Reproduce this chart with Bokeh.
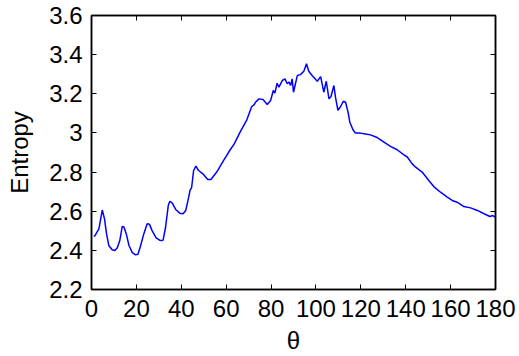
from bokeh.plotting import figure
from bokeh.models import LinearAxis, CustomJSTickFormatter, FixedTicker, Range1d
from bokeh.embed import file_html
from bokeh.resources import INLINE

theta = [1.0, 1.5, 2.3, 3.3, 4.8, 5.8, 6.7, 7.7, 9.2, 10.4, 11.5, 12.6, 13.7, 14.4, 15.5,
         16.7, 18.1, 19.6, 20.7, 21.9, 23.3, 24.8, 25.8, 27.0, 28.8, 30.7, 31.9, 33.0, 34.2,
         34.9, 36.0, 37.5, 39.3, 40.8, 42.0, 43.0, 43.9, 44.6, 45.5, 46.5, 47.7, 49.6, 51.8,
         53.2, 55.8, 58.8, 61.8, 63.6, 66.2, 69.2, 71.4, 72.5, 73.1, 74.6, 76.4, 78.3, 79.8,
         81.0, 81.7, 82.7, 83.5, 85.0, 86.2, 87.2, 88.0, 88.7, 89.4, 90.0, 91.7, 93.1, 94.6,
         95.8, 96.8, 98.3, 100.6, 102.1, 103.5, 104.6, 105.8, 106.7, 108.0, 108.7, 109.8,
         111.0, 112.2, 113.2, 114.3, 115.1, 116.5, 117.6, 119.8, 122.1, 124.3, 127.0, 130.3,
         133.2, 136.2, 139.2, 140.7, 142.9, 144.4, 147.3, 150.3, 152.5, 155.5, 158.5, 160.7,
         162.9, 165.9, 168.9, 171.9, 174.9, 177.5, 178.8, 180.0]
entropy = [2.472, 2.474, 2.49, 2.51, 2.606, 2.561, 2.484, 2.425, 2.403, 2.399, 2.413, 2.45,
           2.522, 2.52, 2.484, 2.425, 2.39, 2.377, 2.38, 2.425, 2.484, 2.536, 2.534, 2.501,
           2.464, 2.45, 2.452, 2.518, 2.629, 2.651, 2.641, 2.609, 2.59, 2.587, 2.604, 2.655,
           2.706, 2.72, 2.808, 2.83, 2.808, 2.791, 2.762, 2.762, 2.80, 2.859, 2.914, 2.944,
           3.004, 3.067, 3.135, 3.145, 3.157, 3.174, 3.171, 3.145, 3.166, 3.217, 3.203, 3.254,
           3.234, 3.268, 3.276, 3.251, 3.26, 3.242, 3.276, 3.208, 3.293, 3.298, 3.315, 3.353,
           3.315, 3.293, 3.264, 3.288, 3.208, 3.264, 3.174, 3.186, 3.242, 3.183, 3.115, 3.135,
           3.162, 3.157, 3.106, 3.055, 3.016, 2.999, 2.999, 2.995, 2.99, 2.978, 2.953, 2.931,
           2.914, 2.888, 2.877, 2.842, 2.825, 2.80, 2.757, 2.726, 2.697, 2.672, 2.655, 2.646,
           2.624, 2.617, 2.604, 2.587, 2.573, 2.578, 2.569]

x_ticks = [0, 20, 40, 60, 80, 100, 120, 140, 160, 180]
y_ticks = [2.2, 2.4, 2.6, 2.8, 3.0, 3.2, 3.4, 3.6]

FONT = "Liberation Sans"
FS = "24px"

p = figure(width=519, height=356, output_backend="svg", toolbar_location=None,
           x_range=Range1d(0, 180), y_range=Range1d(2.2, 3.6),
           min_border_left=91, min_border_right=24, min_border_top=15, min_border_bottom=67,
           x_axis_label="θ", y_axis_label="Entropy")
p.xgrid.visible = False
p.ygrid.visible = False
p.outline_line_color = "black"
p.outline_line_width = 1.5
p.background_fill_color = "white"
p.border_fill_color = "white"

p.line(theta, entropy, line_color="#0000ff", line_width=1.5)

fmt = CustomJSTickFormatter(code="return (Math.round(tick*10)/10).toString();")
blank = CustomJSTickFormatter(code="return '';")

for ax in p.xaxis:
    ax.ticker = FixedTicker(ticks=x_ticks)
for ax in p.yaxis:
    ax.ticker = FixedTicker(ticks=y_ticks)
    ax.formatter = fmt

for ax in list(p.xaxis) + list(p.yaxis):
    ax.major_tick_in = 5
    ax.major_tick_out = 0
    ax.minor_tick_in = 0
    ax.minor_tick_out = 0
    ax.axis_line_width = 1.5
    ax.major_tick_line_width = 1
    ax.major_label_text_font = FONT
    ax.major_label_text_font_size = FS
    ax.major_label_text_color = "black"
    ax.axis_label_text_font = FONT
    ax.axis_label_text_font_size = FS
    ax.axis_label_text_font_style = "normal"
    ax.axis_label_text_color = "black"

p.xaxis.major_label_standoff = 10
p.xaxis.axis_label_standoff = 7
p.yaxis.major_label_standoff = 9
p.yaxis.axis_label_standoff = 13

top = LinearAxis(ticker=FixedTicker(ticks=x_ticks), formatter=blank)
right = LinearAxis(ticker=FixedTicker(ticks=y_ticks), formatter=blank)
for ax in (top, right):
    ax.major_tick_in = 5
    ax.major_tick_out = 0
    ax.minor_tick_in = 0
    ax.minor_tick_out = 0
    ax.axis_line_width = 1.5
    ax.major_label_text_font_size = "0px"
    ax.major_label_standoff = 0
p.add_layout(top, "above")
p.add_layout(right, "right")

open("out.html", "w").write(file_html(p, INLINE))
